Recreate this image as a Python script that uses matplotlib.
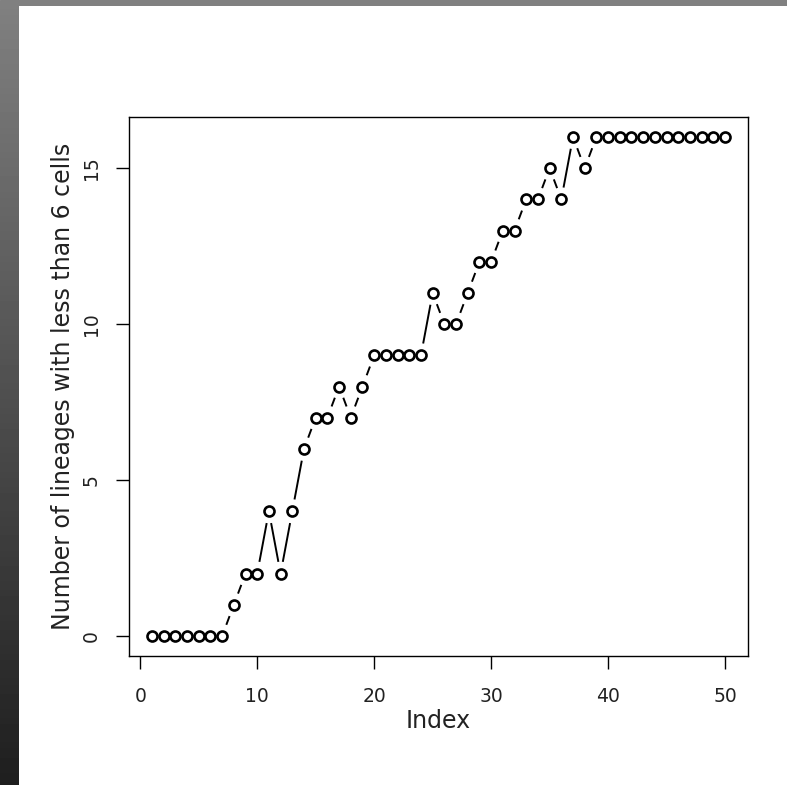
from matplotlib import pyplot as plt
import numpy as np

index = np.arange(1, 51)
lineages = [0, 0, 0, 0, 0, 0, 0, 1, 2, 2,
            4, 2, 4, 6, 7, 7, 8, 7, 8, 9,
            9, 9, 9, 9, 11, 10, 10, 11, 12, 12,
            13, 13, 14, 14, 15, 14, 16, 15, 16, 16,
            16, 16, 16, 16, 16, 16, 16, 16, 16, 16]
xticks = [0, 10, 20, 30, 40, 50]
yticks = [0, 5, 10, 15]

plt.rcParams['font.family'] = ['DejaVu Sans']

W, H = 787, 785
fig = plt.figure(figsize=(W / 100, H / 100), dpi=100)
fig.patch.set_facecolor('white')

# grey frame: flat band on top, dark gradient on the left
top = fig.add_axes([0, 1 - 6 / H, 1, 6 / H])
top.axis('off')
top.add_patch(plt.Rectangle((0, 0), 1, 1, color='#808080', transform=top.transAxes))
side = fig.add_axes([0, 0, 19 / W, 1 - 6 / H])
grad = np.linspace(0.5, 0.12, 256).reshape(-1, 1)
side.imshow(grad, cmap='gray', vmin=0, vmax=1, aspect='auto')
side.axis('off')

ax = fig.add_axes([129 / W, 1 - 656 / H, (748 - 129) / W, (656 - 117) / H])
x = np.asarray(index, dtype=float)
y = np.asarray(lineages, dtype=float)
xpad = (x.max() - x.min()) * 0.04
ypad = (y.max() - y.min()) * 0.04
ax.set_xlim(x.min() - xpad, x.max() + xpad)
ax.set_ylim(y.min() - ypad, y.max() + ypad)

# R type="b": segments with gaps around points
gap = 12
pts = ax.transData.transform(np.column_stack([x, y]))
inv = ax.transData.inverted()
for p0, p1 in zip(pts[:-1], pts[1:]):
    d = p1 - p0
    L = np.hypot(*d)
    if L > 2 * gap + 1:
        u = d / L
        a = inv.transform(p0 + u * gap)
        b = inv.transform(p1 - u * gap)
        ax.plot([a[0], b[0]], [a[1], b[1]], color='black', lw=1.4, solid_capstyle='butt')

ax.plot(x, y, 'o', ms=7.2, mfc='none', mec='black', mew=1.9)

ax.set_xticks(xticks)
ax.set_yticks(yticks)
ax.set_yticklabels([str(v) for v in yticks], rotation=90, va='center')
ax.tick_params(direction='out', length=9.5, width=1, labelsize=13.5, pad=13,
               colors='black', labelcolor='#222222')
ax.tick_params(axis='y', pad=11)
for s in ax.spines.values():
    s.set_linewidth(1)
ax.set_xlabel('Index', fontsize=17, labelpad=2, color='#222222')
ax.set_ylabel('Number of lineages with less than 6 cells', fontsize=17,
              labelpad=5, color='#222222')

fig.savefig('out.png', dpi=100, facecolor='white')
